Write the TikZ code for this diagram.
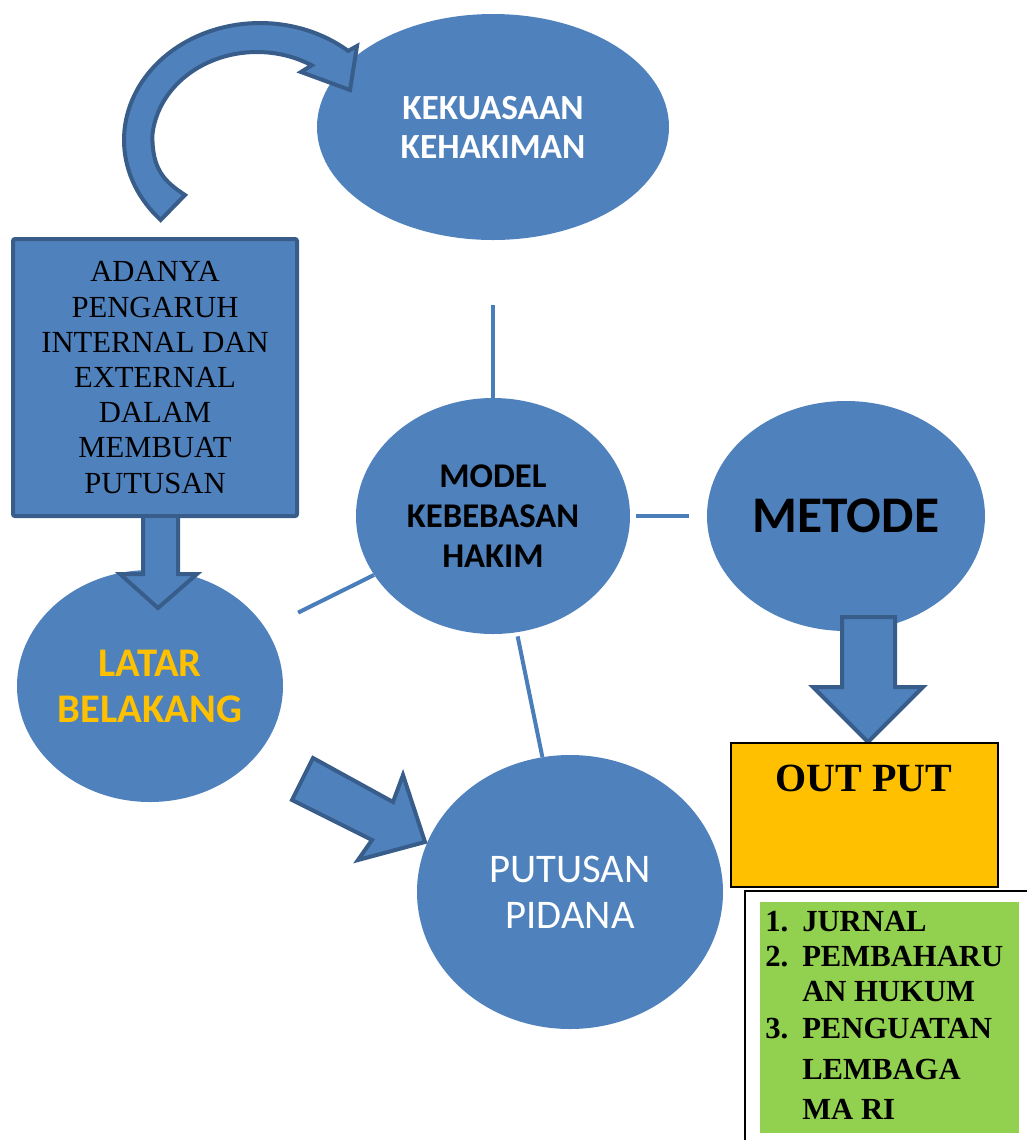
\documentclass[tikz,border=0pt]{standalone}
\usepackage{fontspec}
\setmainfont{Liberation Serif}
\newfontfamily\calfont{Carlito}
\usetikzlibrary{shapes.geometric}
\definecolor{bblue}{HTML}{4F81BD}
\definecolor{bdark}{HTML}{385D8A}
\definecolor{gold}{HTML}{FFC000}
\definecolor{lgreen}{HTML}{92D050}
\definecolor{lineblue}{HTML}{4A7EBB}
\begin{document}
\begin{tikzpicture}[x=0.75pt,y=-0.75pt,
  blob/.style={ellipse, fill=bblue, inner sep=0pt, align=center},
  blockarrow/.style={fill=bblue, draw=bdark, line width=3pt, line join=miter},
  link/.style={draw=lineblue, line width=3pt}]
\useasboundingbox (0,0) rectangle (1027,1140);

% ellipses
\node[blob, minimum width=264pt, minimum height=169.5pt, text=white,
      font=\calfont\bfseries\fontsize{26.5}{29.25}\selectfont] (kek) at (493,127) {KEKUASAAN\\KEHAKIMAN};
\node[blob, minimum width=205.5pt, minimum height=177pt,
      font=\calfont\bfseries\fontsize{26}{30}\selectfont] (model) at (493,516) {MODEL\\KEBEBASAN\\HAKIM};
\node[blob, minimum width=208.5pt, minimum height=172.5pt,
      font=\calfont\bfseries\fontsize{38.5}{44}\selectfont] (metode) at (846,516) {METODE};
\node[blob, minimum width=199.5pt, minimum height=174pt, text=gold,
      font=\calfont\bfseries\fontsize{30.5}{34.5}\selectfont] (latar) at (150,686) {LATAR\\BELAKANG};
\node[blob, minimum width=229.5pt, minimum height=205.5pt, text=white,
      font=\calfont\fontsize{30.5}{34.5}\selectfont] (putusan) at (570,892) {PUTUSAN\\PIDANA};

% rectangle
\node[draw=bdark, fill=bblue, line width=3pt, rounded corners=1.5pt,
      minimum width=213pt, minimum height=207.75pt, inner sep=0pt, align=center,
      font=\fontsize{23}{26.4}\selectfont] (adanya) at (155,377.5)
      {ADANYA\\PENGARUH\\INTERNAL DAN\\EXTERNAL\\DALAM\\MEMBUAT\\PUTUSAN};

% connectors
\draw[link, shorten <=48.75pt] (kek) -- (model);
\draw[link, shorten <=4.5pt, shorten >=13.5pt] (model) -- (metode);
\draw[link, shorten <=27pt] (latar) -- (model);
\draw[link, shorten <=3pt] (model) -- (putusan);

% curved arrow
\draw[blockarrow]
  plot[domain=136.9:310.4, samples=70, variable=\t] ({260+136*cos(\t)},{140+117*sin(\t)})
  -- (357,46) -- (350,90) -- (301,72)
  -- plot[domain=301.4:185, samples=60, variable=\t] ({257+105*cos(\t)},{143+91*sin(\t)})
  .. controls (152,170) and (165,182) .. (185,195)
  -- cycle;

% down arrow rect -> latar
\draw[blockarrow] (143,518) -- (143,574) -- (120,574) -- (158,608) -- (197,574) -- (178,574) -- (178,518);

% diagonal arrow latar -> putusan
\draw[blockarrow] (313,758) -- (393,802) -- (403,775) -- (425,842) -- (358,860) -- (372,840) -- (292,800) -- cycle;

% down arrow metode -> output
\draw[blockarrow] (842,617) -- (842,687) -- (813,687) -- (868,742) -- (923,687) -- (895,687) -- (895,617) -- cycle;

% output box
\node[draw=black, fill=gold, line width=1.2pt, minimum width=200.25pt, minimum height=108pt, inner sep=0pt] (out) at (864.5,815) {};
\node[font=\bfseries\fontsize{30}{34}\selectfont, inner sep=0pt] (outt) at (864,778) {OUT PUT};

% list box
\begin{scope}
\clip (0,0) rectangle (1027,1140);
\draw[black, line width=1.2pt] (745,891) rectangle (1040,1150);
\end{scope}
\node[fill=lgreen, minimum width=194.25pt, minimum height=173.25pt, inner sep=0pt] (green) at (889.5,1017.5) {};
\node[anchor=north west, inner sep=0pt, align=left,
      font=\bfseries\fontsize{23}{26.25}\selectfont] (list) at (765,911)
  {\makebox[27.75pt][l]{1.}JURNAL\\
   \makebox[27.75pt][l]{2.}PEMBAHARU\\
   \makebox[27.75pt][l]{}AN HUKUM\\[1.5pt]
   \makebox[27.75pt][l]{3.}PENGUATAN\\[4.5pt]
   \makebox[27.75pt][l]{}LEMBAGA\\[4pt]
   \makebox[27.75pt][l]{}MA RI};
\end{tikzpicture}
\end{document}
